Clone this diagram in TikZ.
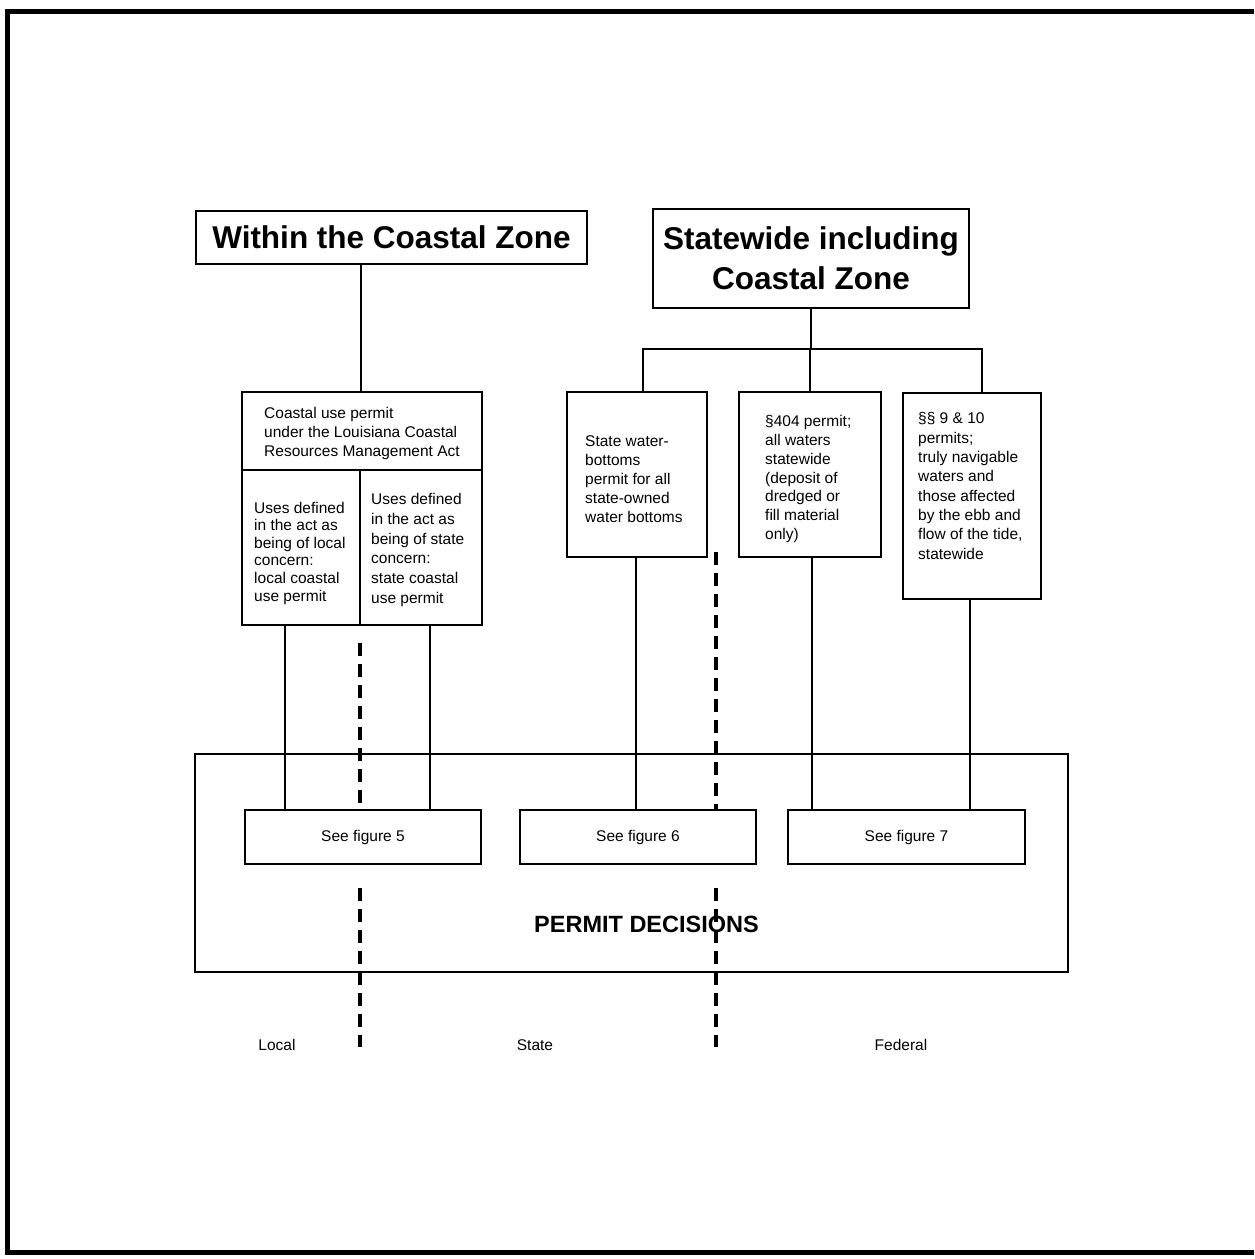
\documentclass[tikz,border=0pt]{standalone}
\usepackage{fontspec}
\setmainfont{Liberation Sans}
\begin{document}
\begin{tikzpicture}[x=1pt,y=-1pt]
\tikzset{
  box/.style={draw, line width=2.2pt, inner sep=0pt},
  conn/.style={line width=1.8pt},
  divider/.style={line width=3.8pt, dash pattern=on 13pt off 8pt},
  txt/.style={font=\fontsize{15.5}{19}\selectfont, align=left, inner sep=0pt, anchor=west},
  title/.style={font=\bfseries\fontsize{31.5}{40}\selectfont, align=center},
  small/.style={font=\fontsize{15.5}{19}\selectfont},
}
\useasboundingbox (0,0) rectangle (1254,1259);
% outer frame
\draw[line width=5pt] (1254,11) -- (7,11) -- (7,1252) -- (1254,1252);

% headings
\node[box, title, minimum width=391, minimum height=53] (within) at (391.5,237.5) {Within the Coastal Zone};
\node[box, title, minimum width=316, minimum height=99] (state) at (811,258.5) {Statewide including\\Coastal Zone};

% coastal use permit block
\node[box, minimum width=240, minimum height=78] (cuptop) at (362,431) {};
\node[box, minimum width=118, minimum height=155] (cupl) at (301,547.5) {};
\node[box, minimum width=122, minimum height=155] (cupr) at (421,547.5) {};
\node[txt] (cuptopT) at (264,433) {Coastal use permit\\under the Louisiana Coastal\\Resources Management Act};
\node[txt, font=\fontsize{15.5}{17.6}\selectfont] (cuplT) at (254,553) {Uses defined\\in the act as\\being of local\\concern:\\local coastal\\use permit};
\node[txt, font=\fontsize{15.5}{19.8}\selectfont] (cuprT) at (371,550) {Uses defined\\in the act as\\being of state\\concern:\\state coastal\\use permit};

% statewide permit boxes
\node[box, minimum width=140, minimum height=165] (sw) at (637,474.5) {};
\node[box, minimum width=142, minimum height=165] (p404) at (810,474.5) {};
\node[box, minimum width=138, minimum height=206] (p910) at (972,496) {};
\node[txt] (swT) at (585,479) {State water-\\bottoms\\permit for all\\state-owned\\water bottoms};
\node[txt, font=\fontsize{15.5}{18.7}\selectfont] (p404T) at (765,479) {§404 permit;\\all waters\\statewide\\(deposit of\\dredged or\\fill material\\only)};
\node[txt, font=\fontsize{15.5}{19.3}\selectfont] (p910T) at (918,486) {§§ 9 \& 10\\permits;\\truly navigable\\waters and\\those affected\\by the ebb and\\flow of the tide,\\statewide};

% permit decisions
\node[box, minimum width=873, minimum height=218] (decisions) at (631.5,863) {};
\node[box, small, minimum width=236, minimum height=54] (fig5) at (363,837) {See figure 5};
\node[box, small, minimum width=236, minimum height=54] (fig6) at (638,837) {See figure 6};
\node[box, small, minimum width=237, minimum height=54] (fig7) at (906.5,837) {See figure 7};
\node[font=\bfseries\fontsize{23.5}{28}\selectfont, inner sep=0pt] (pd) at (646.5,924) {PERMIT DECISIONS};

% connectors
\coordinate (bar) at (810,349);
\draw[conn] (cupl.east |- within.south) -- (cupl.east |- cuptop.north);
\draw[conn] (state.south) -- (state.south |- bar);
\draw[conn] ([xshift=6pt]sw.north) |- (bar) -| ([xshift=10pt]p910.north);
\draw[conn] (p404.north) -- (p404.north |- bar);
\draw[conn] ([xshift=-16pt]cupl.south) -- ([xshift=-16pt]cupl.south |- fig5.north);
\draw[conn] ([xshift=9pt]cupr.south) -- ([xshift=9pt]cupr.south |- fig5.north);
\draw[conn] ([xshift=-1pt]sw.south) -- ([xshift=-1pt]sw.south |- fig6.north);
\draw[conn] ([xshift=2pt]p404.south) -- ([xshift=2pt]p404.south |- fig7.north);
\draw[conn] ([xshift=-2pt]p910.south) -- ([xshift=-2pt]p910.south |- fig7.north);

% jurisdiction dividers
\coordinate (d1a) at (360,643);
\coordinate (d1b) at (360,806);
\coordinate (d1c) at (360,888);
\coordinate (d1d) at (360,1047);
\coordinate (d2a) at (716,552);
\coordinate (d2b) at (716,810);
\coordinate (d2c) at (716,888);
\coordinate (d2d) at (716,1047);
\draw[divider] (d1a) -- (d1b);
\draw[divider] (d1c) -- (d1d);
\draw[divider] (d2a) -- (d2b);
\draw[divider] (d2c) -- (d2d);

% labels
\node[small] (local) at (277,1045) {Local};
\node[small] (stateL) at (535,1045) {State};
\node[small] (federal) at (901,1045) {Federal};
\end{tikzpicture}
\end{document}
